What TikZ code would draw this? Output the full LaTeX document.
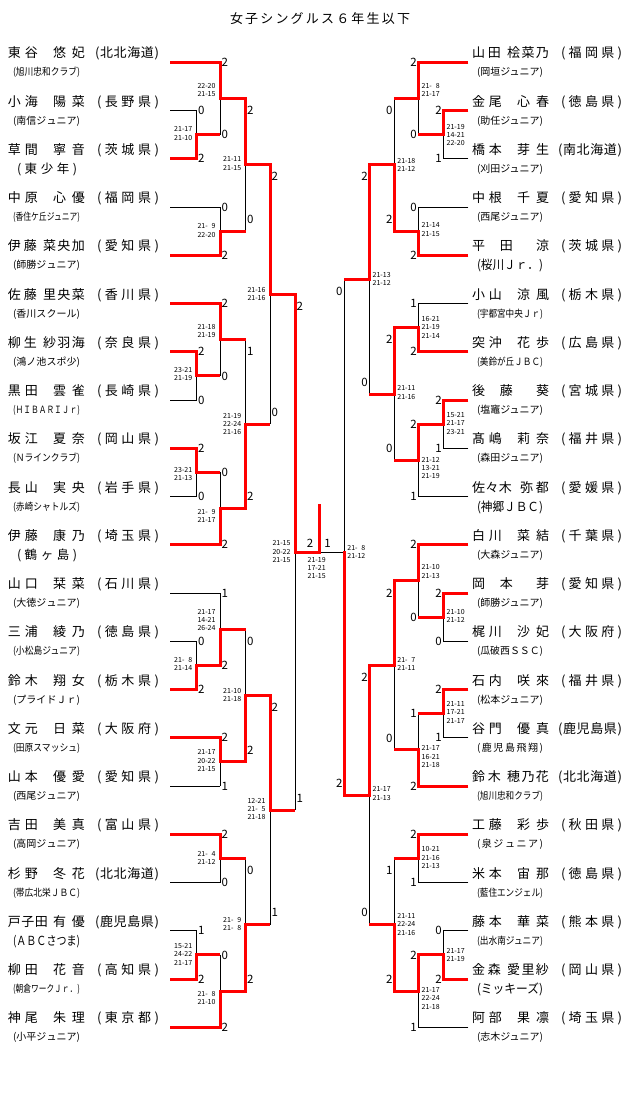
\documentclass[tikz,border=0pt]{standalone}
\usepackage{fontspec}
\setmainfont{Noto Sans CJK JP}
\usepackage{graphicx}
\pgfdeclarelayer{bg}
\pgfdeclarelayer{paper}
\pgfsetlayers{paper,bg,main}
\newcommand\spr[2]{\makebox[#1][s]{\sprA#2\relax}}
\def\sprA#1{#1\sprB}
\def\sprB#1{\ifx\relax#1\else\hskip0pt plus1fil minus1fil\relax#1\expandafter\sprB\fi}
\newsavebox\clbox
\newcommand\fitw[2]{\sbox\clbox{#2}\ifdim\wd\clbox>#1\relax\resizebox{#1}{\height}{\usebox\clbox}\else\spr{#1}{#2}\fi}
\newcommand\nmfont{\fontsize{13pt}{13pt}\selectfont}
\newcommand\clfont{\fontsize{10pt}{10pt}\selectfont}
\newcommand\clLfont{\fontsize{12.5pt}{12.5pt}\selectfont}
\newcommand\scfont{\fontsize{11.5pt}{11.5pt}\selectfont}
\newcommand\gsfont{\fontsize{7pt}{8.3pt}\selectfont}
\newcommand\zz{\phantom{0}}
\tikzset{
 txt/.style={inner sep=0pt,outer sep=0pt},
 bk/.style={line width=1pt,black},
 rv/.style={line width=3pt,red,line cap=rect},
 rh/.style={line width=3pt,red},
}
\newcommand\pname[7]{%
 \node[txt,anchor=base west,font=\nmfont] (#1f) at (#2,#3-4.5) {\spr{#4pt}{#6}};
 \node[txt,anchor=base west,font=\nmfont] (#1g) at (#2+#5,#3-4.5) {\spr{\dimexpr77pt-#5pt\relax}{#7}};}
\newcommand\ppref[5]{\node[txt,anchor=base west,font=\nmfont] (#1p) at (#2,#3-4.5) {\spr{#4pt}{#5}};}
\newcommand\pclub[5]{\node[txt,anchor=base west,font=\clfont] (#1c) at (#2,#3+13.5) {\fitw{#4pt}{#5}};}
\newcommand\pclubL[5]{\node[txt,anchor=base west,font=\clLfont] (#1c) at (#2,#3+14.5) {\fitw{#4pt}{#5}};}
\newcommand\entB[3]{\begin{pgfonlayer}{bg}\draw[bk] (#1,#3) -- (#2,#3);\end{pgfonlayer}}
\newcommand\entR[3]{\draw[rh] (#1,#3) -- (#2,#3);}
\newcommand\mt[6]{%
 \begin{pgfonlayer}{bg}\draw[bk] (#1,#2) -- (#1,#3);\end{pgfonlayer}
 \draw[rv] (#1,#5) -- (#1,#4);
 \draw[rh] (#1,#4) -- (#6,#4);}
\newcommand\scL[4]{\node[txt,anchor=west,font=\scfont] (#1) at (#2+1.5,#3) {#4};}
\newcommand\scR[4]{\node[txt,anchor=east,font=\scfont] (#1) at (#2-1.5,#3) {#4};}
\newcommand\gsL[4]{\node[txt,anchor=east,font=\gsfont,align=center] (#1) at (#2-4.5,#3) {#4};}
\newcommand\gsR[4]{\node[txt,anchor=west,font=\gsfont,align=center] (#1) at (#2+3.4,#3) {#4};}
\begin{document}
\begin{tikzpicture}[x=1pt,y=-1pt]
\begin{pgfonlayer}{paper}
\fill[white] (0,0) rectangle (640,1113);
\end{pgfonlayer}
\useasboundingbox (0,0) rectangle (640,1113);
\node[txt,anchor=base west,font=\nmfont] (title) at (230,24) {\spr{180pt}{女子シングルス６年生以下}};
% ---------- left players
\pname{L0}{8}{62.30}{30}{45}{東谷}{悠妃}\ppref{L0}{95}{62.30}{64}{(北北海道)}\pclub{L0}{13}{62.30}{67}{(旭川忠和クラブ)}
\pname{L1}{8}{110.55}{30}{45}{小海}{陽菜}\ppref{L1}{97}{110.55}{62}{(長野県)}\pclub{L1}{13}{110.55}{67}{(南信ジュニア)}
\pname{L2}{8}{158.80}{30}{45}{草間}{寧音}\ppref{L2}{97}{158.80}{62}{(茨城県)}\pclubL{L2}{17}{158.80}{60}{(東少年)}
\pname{L3}{8}{207.05}{30}{45}{中原}{心優}\ppref{L3}{97}{207.05}{62}{(福岡県)}\pclub{L3}{13}{207.05}{67}{(香住ケ丘ジュニア)}
\pname{L4}{8}{255.30}{29}{35}{伊藤}{菜央加}\ppref{L4}{97}{255.30}{62}{(愛知県)}\pclub{L4}{13}{255.30}{67}{(師勝ジュニア)}
\pname{L5}{8}{303.55}{29}{35}{佐藤}{里央菜}\ppref{L5}{97}{303.55}{62}{(香川県)}\pclub{L5}{13}{303.55}{67}{(香川スクール)}
\pname{L6}{8}{351.80}{29}{35}{柳生}{紗羽海}\ppref{L6}{97}{351.80}{62}{(奈良県)}\pclub{L6}{13}{351.80}{67}{(鴻ノ池スポ少)}
\pname{L7}{8}{400.05}{30}{45}{黒田}{雲雀}\ppref{L7}{97}{400.05}{62}{(長崎県)}\pclub{L7}{13}{400.05}{67}{(ＨＩＢＡＲＩＪｒ)}
\pname{L8}{8}{448.30}{30}{45}{坂江}{夏奈}\ppref{L8}{97}{448.30}{62}{(岡山県)}\pclub{L8}{13}{448.30}{67}{(Ｎラインクラブ)}
\pname{L9}{8}{496.55}{30}{45}{長山}{実央}\ppref{L9}{97}{496.55}{62}{(岩手県)}\pclub{L9}{13}{496.55}{67}{(赤崎シャトルズ)}
\pname{L10}{8}{544.80}{30}{45}{伊藤}{康乃}\ppref{L10}{97}{544.80}{62}{(埼玉県)}\pclubL{L10}{17}{544.80}{60}{(鶴ヶ島)}
\pname{L11}{8}{593.05}{30}{45}{山口}{栞菜}\ppref{L11}{97}{593.05}{62}{(石川県)}\pclub{L11}{13}{593.05}{67}{(大徳ジュニア)}
\pname{L12}{8}{641.30}{30}{45}{三浦}{綾乃}\ppref{L12}{97}{641.30}{62}{(徳島県)}\pclub{L12}{13}{641.30}{67}{(小松島ジュニア)}
\pname{L13}{8}{689.55}{30}{45}{鈴木}{翔女}\ppref{L13}{97}{689.55}{62}{(栃木県)}\pclub{L13}{13}{689.55}{67}{(プライドＪｒ)}
\pname{L14}{8}{737.80}{30}{45}{文元}{日菜}\ppref{L14}{97}{737.80}{62}{(大阪府)}\pclub{L14}{13}{737.80}{67}{(田原スマッシュ)}
\pname{L15}{8}{786.05}{30}{45}{山本}{優愛}\ppref{L15}{97}{786.05}{62}{(愛知県)}\pclub{L15}{13}{786.05}{67}{(西尾ジュニア)}
\pname{L16}{8}{834.30}{30}{45}{吉田}{美真}\ppref{L16}{97}{834.30}{62}{(富山県)}\pclub{L16}{13}{834.30}{67}{(高岡ジュニア)}
\pname{L17}{8}{882.55}{30}{45}{杉野}{冬花}\ppref{L17}{95}{882.55}{64}{(北北海道)}\pclub{L17}{13}{882.55}{67}{(帯広北栄ＪＢＣ)}
\pname{L18}{8}{930.80}{40}{45}{戸子田}{有優}\ppref{L18}{95}{930.80}{64}{(鹿児島県)}\pclubL{L18}{13}{930.80}{67}{(ＡＢＣさつま)}
\pname{L19}{8}{979.05}{30}{45}{柳田}{花音}\ppref{L19}{97}{979.05}{62}{(高知県)}\pclub{L19}{13}{979.05}{67}{(朝倉ワークＪｒ．)}
\pname{L20}{8}{1027.30}{30}{45}{神尾}{朱理}\ppref{L20}{97}{1027.30}{62}{(東京都)}\pclub{L20}{13}{1027.30}{67}{(小平ジュニア)}
% ---------- right players
\pname{R0}{472}{62.30}{29}{35}{山田}{桧菜乃}\ppref{R0}{561}{62.30}{61}{(福岡県)}\pclub{R0}{477}{62.30}{66}{(岡垣ジュニア)}
\pname{R1}{472}{110.55}{30}{45}{金尾}{心春}\ppref{R1}{561}{110.55}{61}{(徳島県)}\pclub{R1}{477}{110.55}{66}{(助任ジュニア)}
\pname{R2}{472}{158.80}{30}{45}{橋本}{芽生}\ppref{R2}{558}{158.80}{64}{(南北海道)}\pclub{R2}{477}{158.80}{66}{(刈田ジュニア)}
\pname{R3}{472}{207.05}{30}{45}{中根}{千夏}\ppref{R3}{561}{207.05}{61}{(愛知県)}\pclub{R3}{477}{207.05}{66}{(西尾ジュニア)}
\pname{R4}{472}{255.30}{41}{45}{平田}{\hfill 涼}\ppref{R4}{561}{255.30}{61}{(茨城県)}\pclubL{R4}{477}{255.30}{66}{(桜川Ｊｒ．)}
\pname{R5}{472}{303.55}{30}{45}{小山}{涼風}\ppref{R5}{561}{303.55}{61}{(栃木県)}\pclub{R5}{477}{303.55}{66}{(宇都宮中央Ｊｒ)}
\pname{R6}{472}{351.80}{30}{45}{突沖}{花歩}\ppref{R6}{561}{351.80}{61}{(広島県)}\pclub{R6}{477}{351.80}{66}{(美鈴が丘ＪＢＣ)}
\pname{R7}{472}{400.05}{41}{45}{後藤}{\hfill 葵}\ppref{R7}{561}{400.05}{61}{(宮城県)}\pclub{R7}{477}{400.05}{66}{(塩竈ジュニア)}
\pname{R8}{472}{448.30}{30}{45}{髙嶋}{莉奈}\ppref{R8}{561}{448.30}{61}{(福井県)}\pclub{R8}{477}{448.30}{66}{(森田ジュニア)}
\pname{R9}{472}{496.55}{40}{48}{佐々木}{弥都}\ppref{R9}{561}{496.55}{61}{(愛媛県)}\pclubL{R9}{477}{496.55}{66}{(神郷ＪＢＣ)}
\pname{R10}{472}{544.80}{30}{45}{白川}{菜結}\ppref{R10}{561}{544.80}{61}{(千葉県)}\pclub{R10}{477}{544.80}{66}{(大森ジュニア)}
\pname{R11}{472}{593.05}{41}{45}{岡本}{\hfill 芽}\ppref{R11}{561}{593.05}{61}{(愛知県)}\pclub{R11}{477}{593.05}{66}{(師勝ジュニア)}
\pname{R12}{472}{641.30}{30}{45}{梶川}{沙妃}\ppref{R12}{561}{641.30}{61}{(大阪府)}\pclub{R12}{477}{641.30}{66}{(瓜破西ＳＳＣ)}
\pname{R13}{472}{689.55}{30}{45}{石内}{咲來}\ppref{R13}{561}{689.55}{61}{(福井県)}\pclub{R13}{477}{689.55}{66}{(松本ジュニア)}
\pname{R14}{472}{737.80}{30}{45}{谷門}{優真}\ppref{R14}{558}{737.80}{64}{(鹿児島県)}\pclub{R14}{477}{737.80}{66}{(鹿児島飛翔)}
\pname{R15}{472}{786.05}{29}{35}{鈴木}{穂乃花}\ppref{R15}{558}{786.05}{64}{(北北海道)}\pclub{R15}{477}{786.05}{66}{(旭川忠和クラブ)}
\pname{R16}{472}{834.30}{30}{45}{工藤}{彩歩}\ppref{R16}{561}{834.30}{61}{(秋田県)}\pclub{R16}{477}{834.30}{66}{(泉ジュニア)}
\pname{R17}{472}{882.55}{30}{45}{米本}{宙那}\ppref{R17}{561}{882.55}{61}{(徳島県)}\pclub{R17}{477}{882.55}{66}{(藍住エンジェル)}
\pname{R18}{472}{930.80}{30}{45}{藤本}{華菜}\ppref{R18}{561}{930.80}{61}{(熊本県)}\pclub{R18}{477}{930.80}{66}{(出水南ジュニア)}
\pname{R19}{472}{979.05}{29}{35}{金森}{愛里紗}\ppref{R19}{561}{979.05}{61}{(岡山県)}\pclubL{R19}{477}{979.05}{66}{(ミッキーズ)}
\pname{R20}{472}{1027.30}{30}{45}{阿部}{果凛}\ppref{R20}{561}{1027.30}{61}{(埼玉県)}\pclub{R20}{477}{1027.30}{66}{(志木ジュニア)}
% ---------- left entry lines
\entR{170}{220}{62.30}
\entB{170}{196.7}{110.55}
\entR{170}{196.7}{158.80}
\entB{170}{220}{207.05}
\entR{170}{220}{255.30}
\entR{170}{220}{303.55}
\entR{170}{196.7}{351.80}
\entB{170}{196.7}{400.05}
\entR{170}{196.7}{448.30}
\entB{170}{196.7}{496.55}
\entR{170}{220}{544.80}
\entB{170}{220}{593.05}
\entB{170}{196.7}{641.30}
\entR{170}{196.7}{689.55}
\entR{170}{220}{737.80}
\entB{170}{220}{786.05}
\entR{170}{220}{834.30}
\entB{170}{220}{882.55}
\entB{170}{196.7}{930.80}
\entR{170}{196.7}{979.05}
\entR{170}{220}{1027.30}
% ---------- right entry lines
\entR{468.3}{418.3}{62.30}
\entR{468.3}{443.3}{110.55}
\entB{468.3}{443.3}{158.80}
\entB{468.3}{418.3}{207.05}
\entR{468.3}{418.3}{255.30}
\entB{468.3}{418.3}{303.55}
\entR{468.3}{418.3}{351.80}
\entR{468.3}{443.3}{400.05}
\entB{468.3}{443.3}{448.30}
\entB{468.3}{418.3}{496.55}
\entR{468.3}{418.3}{544.80}
\entR{468.3}{443.3}{593.05}
\entB{468.3}{443.3}{641.30}
\entR{468.3}{443.3}{689.55}
\entB{468.3}{443.3}{737.80}
\entR{468.3}{418.3}{786.05}
\entR{468.3}{418.3}{834.30}
\entB{468.3}{418.3}{882.55}
\entB{468.3}{443.3}{930.80}
\entR{468.3}{443.3}{979.05}
\entB{468.3}{418.3}{1027.30}
% ---------- left matches
\mt{196.7}{110.55}{158.80}{134.675}{158.80}{220}
\mt{220}{62.30}{134.675}{98.49}{62.30}{245.7}
\mt{220}{207.05}{255.30}{231.175}{255.30}{245.7}
\mt{245.7}{98.49}{231.175}{164.83}{98.49}{270}
\mt{196.7}{351.80}{400.05}{375.925}{351.80}{220}
\mt{220}{303.55}{375.925}{339.74}{303.55}{245.7}
\mt{196.7}{448.30}{496.55}{472.425}{448.30}{220}
\mt{220}{472.425}{544.80}{508.61}{544.80}{245.7}
\mt{245.7}{339.74}{508.61}{424.18}{508.61}{270}
\mt{270}{164.83}{424.18}{294.5}{164.83}{295}
\mt{196.7}{641.30}{689.55}{665.425}{689.55}{220}
\mt{220}{593.05}{665.425}{629.24}{665.425}{245.7}
\mt{220}{737.80}{786.05}{761.925}{737.80}{245.7}
\mt{245.7}{629.24}{761.925}{695.58}{761.925}{270}
\mt{220}{834.30}{882.55}{858.425}{834.30}{245.7}
\mt{196.7}{930.80}{979.05}{954.925}{979.05}{220}
\mt{220}{954.925}{1027.30}{991.11}{1027.30}{245.7}
\mt{245.7}{858.425}{991.11}{924.77}{991.11}{270}
\mt{270}{695.58}{924.77}{810.17}{695.58}{295}
\mt{295}{294.5}{810.17}{552.3}{294.5}{319.3}
% ---------- right matches
\mt{443.3}{110.55}{158.80}{134.675}{110.55}{418.3}
\mt{418.3}{62.30}{134.675}{98.49}{62.30}{394}
\mt{418.3}{207.05}{255.30}{231.175}{255.30}{394}
\mt{394}{98.49}{231.175}{164.83}{231.175}{369.3}
\mt{418.3}{303.55}{351.80}{327.675}{351.80}{394}
\mt{443.3}{400.05}{448.30}{424.175}{400.05}{418.3}
\mt{418.3}{424.175}{496.55}{460.36}{424.175}{394}
\mt{394}{327.675}{460.36}{394.02}{327.675}{369.3}
\mt{369.3}{164.83}{394.02}{279.42}{164.83}{344}
\mt{443.3}{593.05}{641.30}{617.175}{593.05}{418.3}
\mt{418.3}{544.80}{617.175}{580.99}{544.80}{394}
\mt{443.3}{689.55}{737.80}{713.675}{689.55}{418.3}
\mt{418.3}{713.675}{786.05}{749.86}{786.05}{394}
\mt{394}{580.99}{749.86}{665.43}{580.99}{369.3}
\mt{418.3}{834.30}{882.55}{858.425}{834.30}{394}
\mt{443.3}{930.80}{979.05}{954.925}{979.05}{418.3}
\mt{418.3}{954.925}{1027.30}{991.11}{954.925}{394}
\mt{394}{858.425}{991.11}{924.77}{991.11}{369.3}
\mt{369.3}{665.43}{924.77}{795.1}{665.43}{344}
% right final and centre
\begin{pgfonlayer}{bg}
\draw[bk] (344,279.42) -- (344,795.1);
\draw[bk] (344,552.3) -- (319.3,552.3);
\end{pgfonlayer}
\draw[rv] (344,795.1) -- (344,552.3);
\draw[rv] (319.3,552.3) -- (319.3,505.5);
% ---------- left set scores
\scL{sAt}{196.7}{110.55}{0}\scL{sAb}{196.7}{158.80}{2}
\scL{sBt}{220}{62.30}{2}\scL{sBb}{220}{134.675}{0}
\scL{sCt}{220}{207.05}{0}\scL{sCb}{220}{255.30}{2}
\scL{sDt}{245.7}{110.5}{2}\scL{sDb}{245.7}{219.2}{0}
\scL{sEt}{196.7}{351.80}{2}\scL{sEb}{196.7}{400.05}{0}
\scL{sFt}{220}{303.55}{2}\scL{sFb}{220}{375.925}{0}
\scL{sGt}{196.7}{448.30}{2}\scL{sGb}{196.7}{496.55}{0}
\scL{sHt}{220}{472.425}{0}\scL{sHb}{220}{544.80}{2}
\scL{sIt}{245.7}{351.7}{1}\scL{sIb}{245.7}{496.6}{2}
\scL{sJt}{270}{176.8}{2}\scL{sJb}{270}{412.2}{0}
\scL{sKt}{196.7}{641.30}{0}\scL{sKb}{196.7}{689.55}{2}
\scL{sLt}{220}{593.05}{1}\scL{sLb}{220}{665.425}{2}
\scL{sMt}{220}{737.80}{2}\scL{sMb}{220}{786.05}{1}
\scL{sNt}{245.7}{641.2}{0}\scL{sNb}{245.7}{749.9}{2}
\scL{sOt}{220}{834.30}{2}\scL{sOb}{220}{882.55}{0}
\scL{sPt}{196.7}{930.80}{1}\scL{sPb}{196.7}{979.05}{2}
\scL{sQt}{220}{954.925}{0}\scL{sQb}{220}{1027.30}{2}
\scL{sRt}{245.7}{870.4}{0}\scL{sRb}{245.7}{979.1}{2}
\scL{sSt}{270}{707.6}{2}\scL{sSb}{270}{912.8}{1}
\scL{sFLt}{295}{306.5}{2}\scL{sFLb}{295}{798.2}{1}
\node[txt,font=\scfont] (sCL) at (310,543) {2};
\node[txt,font=\scfont] (sCR) at (327.5,543) {1};
% ---------- right set scores
\scR{sat}{443.3}{110.55}{2}\scR{sab}{443.3}{158.80}{1}
\scR{sbt}{418.3}{62.30}{2}\scR{sbb}{418.3}{134.675}{0}
\scR{sct}{418.3}{207.05}{0}\scR{scb}{418.3}{255.30}{2}
\scR{sdt}{394}{110.5}{0}\scR{sdb}{394}{219.2}{2}
\scR{set}{418.3}{303.55}{1}\scR{seb}{418.3}{351.80}{2}
\scR{sft}{443.3}{400.05}{2}\scR{sfb}{443.3}{448.30}{1}
\scR{sgt}{418.3}{424.175}{2}\scR{sgb}{418.3}{496.55}{1}
\scR{sht}{394}{339.7}{2}\scR{shb}{394}{448.4}{0}
\scR{sit}{369.3}{176.8}{2}\scR{sib}{369.3}{382}{0}
\scR{sjt}{443.3}{593.05}{2}\scR{sjb}{443.3}{641.30}{0}
\scR{skt}{418.3}{544.80}{2}\scR{skb}{418.3}{617.175}{0}
\scR{slt}{443.3}{689.55}{2}\scR{slb}{443.3}{737.80}{1}
\scR{smt}{418.3}{713.675}{1}\scR{smb}{418.3}{786.05}{2}
\scR{snt}{394}{593}{2}\scR{snb}{394}{737.9}{0}
\scR{sot}{418.3}{834.30}{2}\scR{sob}{418.3}{882.55}{1}
\scR{spt}{443.3}{930.80}{0}\scR{spb}{443.3}{979.05}{2}
\scR{sqt}{418.3}{954.925}{2}\scR{sqb}{418.3}{1027.30}{1}
\scR{srt}{394}{870.4}{1}\scR{srb}{394}{979.1}{2}
\scR{sst}{369.3}{677.4}{2}\scR{ssb}{369.3}{912.8}{0}
\scR{sRFt}{344}{291.4}{0}\scR{sRFb}{344}{783.1}{2}
% ---------- left game scores
\gsL{gA}{196.7}{133.5}{21-17\\21-10}
\gsL{gB}{220}{90}{22-20\\21-15}
\gsL{gC}{220}{230.5}{21-\zz9\\22-20}
\gsL{gD}{245.7}{163.5}{21-11\\21-15}
\gsL{gJ}{270}{294}{21-16\\21-16}
\gsL{gF}{220}{331.2}{21-18\\21-19}
\gsL{gE}{196.7}{374.3}{23-21\\21-19}
\gsL{gI}{245.7}{424}{21-19\\22-24\\21-16}
\gsL{gG}{196.7}{474}{23-21\\21-13}
\gsL{gH}{220}{515.8}{21-\zz9\\21-17}
\gsL{gLF}{295}{551.7}{21-15\\20-22\\21-15}
\gsL{gL}{220}{620}{21-17\\14-21\\26-24}
\gsL{gK}{196.7}{664.3}{21-\zz8\\21-14}
\gsL{gN}{245.7}{694.8}{21-10\\21-18}
\gsL{gM}{220}{760.7}{21-17\\20-22\\21-15}
\gsL{gS}{270}{809}{12-21\\21-\zz5\\21-18}
\gsL{gO}{220}{858}{21-\zz4\\21-12}
\gsL{gR}{245.7}{923.7}{21-\zz9\\21-\zz8}
\gsL{gP}{196.7}{954.3}{15-21\\24-22\\21-17}
\gsL{gQ}{220}{998.3}{21-\zz8\\21-10}
\node[txt,font=\gsfont,align=center] (gC0) at (316.7,568) {21-19\\17-21\\21-15};
% ---------- right game scores
\gsR{gb}{418.3}{90}{21-\zz8\\21-17}
\gsR{ga}{443.3}{135}{21-19\\14-21\\22-20}
\gsR{gd}{394}{164.8}{21-18\\21-12}
\gsR{gc}{418.3}{229.5}{21-14\\21-15}
\gsR{gi}{369.3}{279.2}{21-13\\21-12}
\gsR{ge}{418.3}{327.3}{16-21\\21-19\\21-14}
\gsR{gh}{394}{392.5}{21-11\\21-16}
\gsR{gf}{443.3}{423.3}{15-21\\21-17\\23-21}
\gsR{gg}{418.3}{468}{21-12\\13-21\\21-19}
\gsR{gRF}{344}{552}{21-\zz8\\21-12}
\gsR{gk}{418.3}{571.5}{21-10\\21-13}
\gsR{gj}{443.3}{615.8}{21-10\\21-12}
\gsR{gn}{394}{664.2}{21-\zz7\\21-11}
\gsR{gl}{443.3}{712.3}{21-11\\17-21\\21-17}
\gsR{gm}{418.3}{756.7}{21-17\\16-21\\21-18}
\gsR{gs}{369.3}{793.5}{21-17\\21-13}
\gsR{go}{418.3}{857.7}{10-21\\21-16\\21-13}
\gsR{gr}{394}{924.3}{21-11\\22-24\\21-16}
\gsR{gp}{443.3}{955}{21-17\\21-19}
\gsR{gq}{418.3}{998.3}{21-17\\22-24\\21-18}
\end{tikzpicture}
\end{document}
